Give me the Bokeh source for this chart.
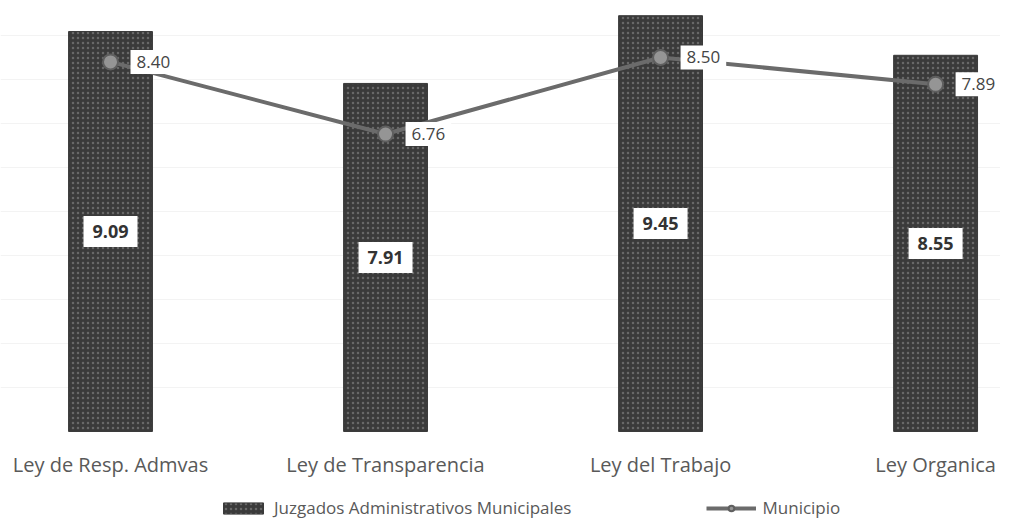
from bokeh.plotting import figure
from bokeh.models import (ColumnDataSource, Range1d, FixedTicker, Legend, LegendItem)
from bokeh.core.properties import value
from bokeh.embed import file_html
from bokeh.resources import INLINE

categories = ["Ley de Resp. Admvas", "Ley de Transparencia", "Ley del Trabajo", "Ley Organica"]
juzgados = [9.09, 7.91, 9.45, 8.55]
municipio = [8.40, 6.76, 8.50, 7.89]
grid_ticks = [1, 2, 3, 4, 5, 6, 7, 8, 9]

xs = list(range(len(categories)))
src = ColumnDataSource(dict(
    x=xs,
    juz=juzgados,
    juz_mid=[v / 2 for v in juzgados],
    juz_lbl=[f"{v:.2f}" for v in juzgados],
    mun=municipio,
    mun_lbl=[f"{v:.2f}" for v in municipio],
))

FONT = "Open Sans"

p = figure(width=1000, height=519, output_backend="svg", toolbar_location=None,
           x_range=Range1d(-0.40, 3.236), y_range=Range1d(-2.0, 9.795),
           min_border=0, min_border_left=0, min_border_right=0,
           min_border_top=0, min_border_bottom=0)
p.outline_line_color = None
p.background_fill_color = "white"
p.border_fill_color = "white"

# axes
p.yaxis.visible = False
xa = p.xaxis[0]
xa.fixed_location = 0
xa.ticker = FixedTicker(ticks=xs)
xa.major_label_overrides = {i: c for i, c in enumerate(categories)}
xa.axis_line_color = None
xa.major_tick_line_color = None
xa.minor_tick_line_color = None
xa.major_label_standoff = 14
xa.major_label_text_font = FONT
xa.major_label_text_font_size = "20px"
xa.major_label_text_color = "#595959"

p.xgrid.visible = False
p.ygrid.ticker = FixedTicker(ticks=grid_ticks)
p.ygrid.grid_line_color = "#f3f3f3"
p.ygrid.grid_line_width = 1

bars = p.vbar(x="x", top="juz", bottom=0, width=0.305, source=src,
              fill_color="#3a3a3a", line_color="#3a3a3a",
              hatch_pattern="dot", hatch_color="#7a7a7a", hatch_scale=5,
              hatch_weight=1.5, hatch_alpha=0.7)

line = p.line(x="x", y="mun", source=src, line_color="#6b6b6b", line_width=4)
pts = p.scatter(x="x", y="mun", source=src, size=15, fill_color="#959595",
                line_color="#5f5f5f", line_width=2)

# bar value labels
p.text(x="x", y="juz_mid", text="juz_lbl", source=src,
       text_font=value(FONT), text_font_style="bold", text_font_size="18px",
       text_color="#333333", text_align="center", text_baseline="middle",
       background_fill_color="white", padding=9)

# line value labels
p.text(x="x", y="mun", text="mun_lbl", source=src, x_offset=20,
       text_font=value(FONT), text_font_size="17px",
       text_color="#454545", text_align="left", text_baseline="middle",
       background_fill_color="white", padding=6)

legend = Legend(items=[
    LegendItem(label="Juzgados Administrativos Municipales", renderers=[bars]),
    LegendItem(label="Municipio", renderers=[line, pts]),
], orientation="horizontal", location=(218, 0), margin=0, padding=0,
    spacing=135, glyph_width=50, glyph_height=14, label_standoff=6,
    label_text_font=FONT, label_text_font_size="17px", label_text_color="#595959",
    background_fill_alpha=0, border_line_color=None)
p.add_layout(legend)

open("out.html", "w").write(file_html(p, INLINE))
